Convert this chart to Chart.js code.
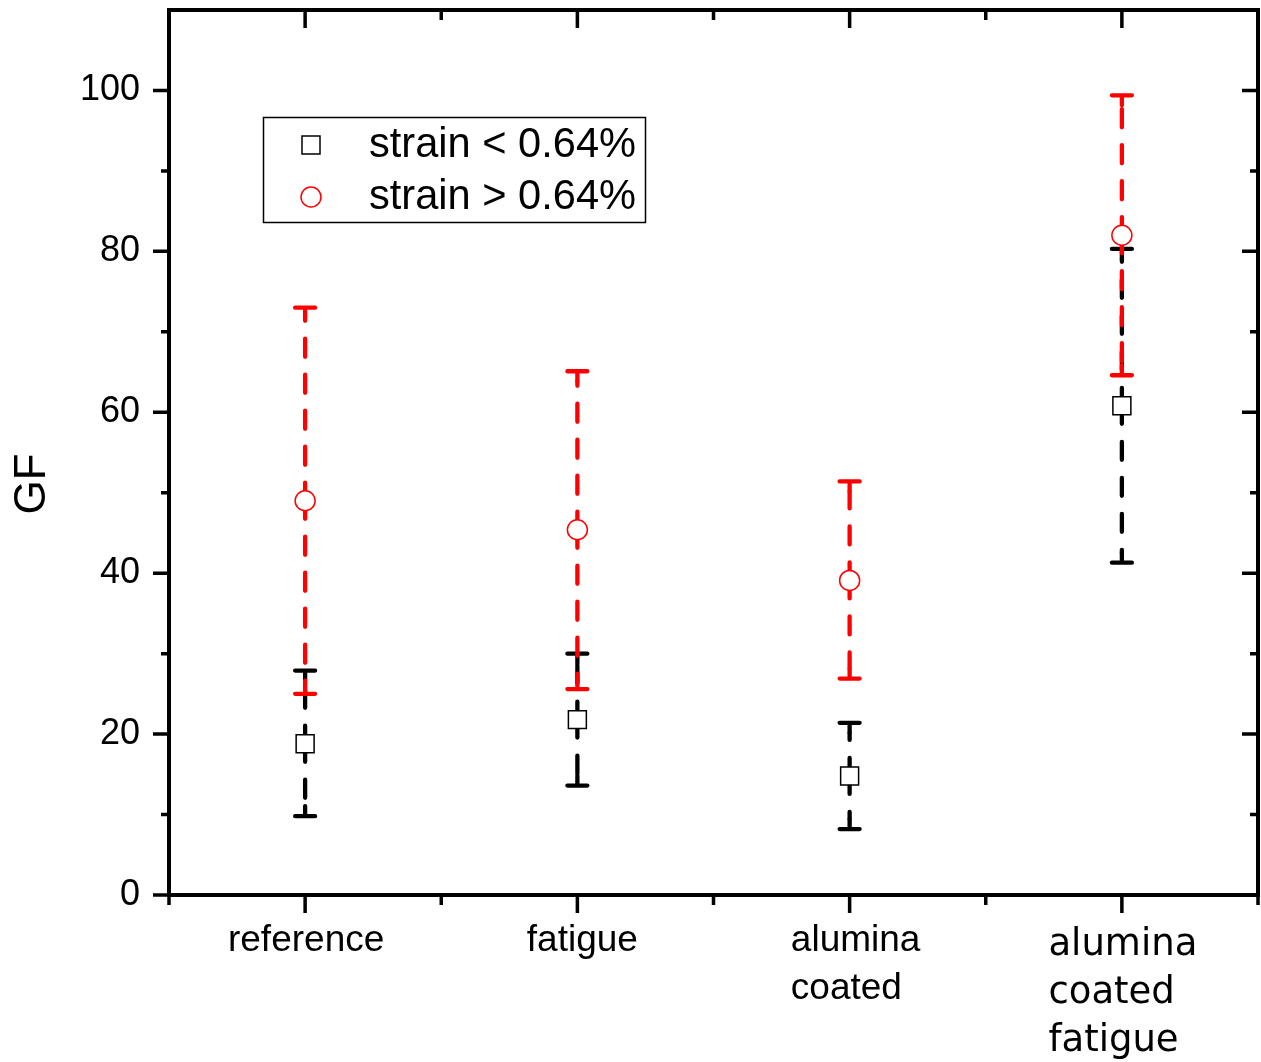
<!DOCTYPE html>
<html>
<head>
<meta charset="utf-8">
<script src="https://cdn.jsdelivr.net/npm/chart.js@4.4.0/dist/chart.umd.min.js"></script>
<style>
html, body { margin: 0; padding: 0; background: #fff; }
#wrap { width: 1261px; height: 1062px; }
</style>
</head>
<body>
<div id="wrap"><canvas id="gfChart"></canvas></div>
<script>
// valeurs
const categories = [['reference'], ['fatigue'], ['alumina', 'coated'], ['alumina', 'coated', 'fatigue']];
const seriesNames = ['strain < 0.64%', 'strain > 0.64%'];
const lowGF = [18.8, 21.8, 14.8, 60.8];
const lowErrMin = [9.8, 13.6, 8.2, 41.3];
const lowErrMax = [27.9, 30.0, 21.4, 80.3];
const highGF = [49.0, 45.4, 39.1, 82.0];
const highErrMin = [25.0, 25.6, 26.9, 64.6];
const highErrMax = [73.0, 65.1, 51.4, 99.4];
const yTicks = [0, 20, 40, 60, 80, 100];
const yMinorTicks = [10, 30, 50, 70, 90];

const mainFont = '"Liberation Sans", Arial, sans-serif';

const errorBars = {
    id: 'errorBars',
    beforeDatasetsDraw(chart) {
        const ctx = chart.ctx;
        const xs = chart.scales.x, ys = chart.scales.y;
        const sets = [
            [lowGF, lowErrMin, lowErrMax, '#000000'],
            [highGF, highErrMin, highErrMax, '#ff0000']
        ];
        ctx.save();
        sets.forEach(([vals, mins, maxs, color]) => {
            vals.forEach((v, i) => {
                const x = xs.getPixelForValue(i + 1);
                const yc = ys.getPixelForValue(v);
                const yLo = ys.getPixelForValue(mins[i]);
                const yHi = ys.getPixelForValue(maxs[i]);
                ctx.strokeStyle = color;
                ctx.lineWidth = 4.3;
                ctx.lineCap = 'round';
                ctx.setLineDash([18, 18]);
                ctx.beginPath();
                ctx.moveTo(x, yc); ctx.lineTo(x, yHi + 10);
                ctx.moveTo(x, yc); ctx.lineTo(x, yLo - 10);
                ctx.stroke();
                ctx.setLineDash([]);
                ctx.beginPath();
                ctx.moveTo(x - 10, yHi); ctx.lineTo(x + 10, yHi);
                ctx.moveTo(x, yHi); ctx.lineTo(x, yHi + 10);
                ctx.moveTo(x - 10, yLo); ctx.lineTo(x + 10, yLo);
                ctx.moveTo(x, yLo); ctx.lineTo(x, yLo - 10);
                ctx.stroke();
            });
        });
        ctx.restore();
    }
};

const frameAndLabels = {
    id: 'frameAndLabels',
    afterDraw(chart) {
        const ctx = chart.ctx;
        const a = chart.chartArea;
        const xs = chart.scales.x, ys = chart.scales.y;
        ctx.save();
        ctx.strokeStyle = '#000';
        ctx.lineWidth = 4;
        ctx.lineCap = 'square';
        ctx.strokeRect(a.left, a.top, a.right - a.left, a.bottom - a.top);

        ctx.lineCap = 'butt';
        ctx.lineWidth = 3.5;
        ctx.beginPath();
        yTicks.forEach(v => {
            const y = ys.getPixelForValue(v);
            ctx.moveTo(a.left - 16, y); ctx.lineTo(a.left, y);
            ctx.moveTo(a.right - 16, y); ctx.lineTo(a.right, y);
        });
        yMinorTicks.forEach(v => {
            const y = ys.getPixelForValue(v);
            ctx.moveTo(a.left - 8, y); ctx.lineTo(a.left, y);
            ctx.moveTo(a.right - 8, y); ctx.lineTo(a.right, y);
        });
        categories.forEach((c, i) => {
            const x = xs.getPixelForValue(i + 1);
            ctx.moveTo(x, a.bottom); ctx.lineTo(x, a.bottom + 18);
            ctx.moveTo(x, a.top); ctx.lineTo(x, a.top + 18);
        });
        for (let i = 0; i <= categories.length; i++) {
            const x = xs.getPixelForValue(i + 0.5);
            ctx.moveTo(x, a.bottom); ctx.lineTo(x, a.bottom + 10);
            if (i > 0 && i < categories.length) {
                ctx.moveTo(x, a.top); ctx.lineTo(x, a.top + 10);
            }
        }
        ctx.stroke();

        // libellés des catégories
        ctx.fillStyle = '#000';
        ctx.textAlign = 'left';
        ctx.textBaseline = 'middle';
        const nudge = [1, 5, 6, 1];
        categories.forEach((lines, i) => {
            const last = i === categories.length - 1;
            ctx.font = last ? '37px "DejaVu Sans", sans-serif' : '37px ' + mainFont;
            const w = Math.max(...lines.map(l => ctx.measureText(l).width));
            const x = xs.getPixelForValue(i + 1) - w / 2 + nudge[i];
            const y0 = last ? 945 : 941;
            lines.forEach((l, k) => ctx.fillText(l, x, y0 + k * 48));
        });

        // titre de l'axe Y
        ctx.save();
        ctx.translate(33, 484);
        ctx.rotate(-Math.PI / 2);
        ctx.textAlign = 'center';
        ctx.font = '44px ' + mainFont;
        ctx.fillText('GF', 0, 0);
        ctx.restore();

        // légende
        ctx.lineWidth = 1.5;
        ctx.strokeStyle = '#000';
        ctx.strokeRect(263.5, 117.5, 382, 105);
        ctx.strokeRect(302, 136, 18, 18);
        ctx.strokeStyle = '#ff0000';
        ctx.beginPath();
        ctx.arc(311, 197, 10, 0, Math.PI * 2);
        ctx.stroke();
        ctx.font = '41.6px ' + mainFont;
        ctx.fillText(seriesNames[0], 369, 146);
        ctx.fillText(seriesNames[1], 369, 198);
        ctx.restore();
    }
};

document.addEventListener('DOMContentLoaded', function () {
    const ctx = document.getElementById('gfChart').getContext('2d');
    new Chart(ctx, {
        type: 'scatter',
        data: {
            datasets: [{
                label: seriesNames[0],
                data: lowGF.map((v, i) => ({ x: i + 1, y: v })),
                pointStyle: 'rect',
                pointRadius: 12.7,
                pointHoverRadius: 12.7,
                backgroundColor: '#ffffff',
                borderColor: '#000000',
                borderWidth: 1.5
            }, {
                label: seriesNames[1],
                data: highGF.map((v, i) => ({ x: i + 1, y: v })),
                pointStyle: 'circle',
                pointRadius: 10,
                pointHoverRadius: 10,
                backgroundColor: '#ffffff',
                borderColor: '#ff0000',
                borderWidth: 1.5
            }]
        },
        options: {
            responsive: true,
            maintainAspectRatio: false,
            animation: false,
            layout: { autoPadding: false, padding: { top: 10, right: 3, left: 0, bottom: 0 } },
            plugins: {
                legend: { display: false },
                tooltip: { enabled: false }
            },
            scales: {
                x: {
                    type: 'linear',
                    min: 0.5,
                    max: 4.5,
                    grid: { display: false, drawTicks: false },
                    border: { display: false },
                    ticks: { display: false },
                    afterFit: s => {
                        s.height = 167;
                        s.paddingLeft = 0; s.paddingRight = 0;
                    }
                },
                y: {
                    min: 0,
                    max: 110,
                    grid: { display: false, drawTicks: false },
                    border: { display: false },
                    afterBuildTicks: s => { s.ticks = yTicks.map(v => ({ value: v })); },
                    ticks: {
                        color: '#000',
                        padding: 29,
                        font: { family: mainFont, size: 36 }
                    },
                    afterFit: s => {
                        s.width = 169;
                        s.paddingTop = 0; s.paddingBottom = 0;
                    }
                }
            }
        },
        plugins: [errorBars, frameAndLabels]
    });
});
</script>
</body>
</html>
